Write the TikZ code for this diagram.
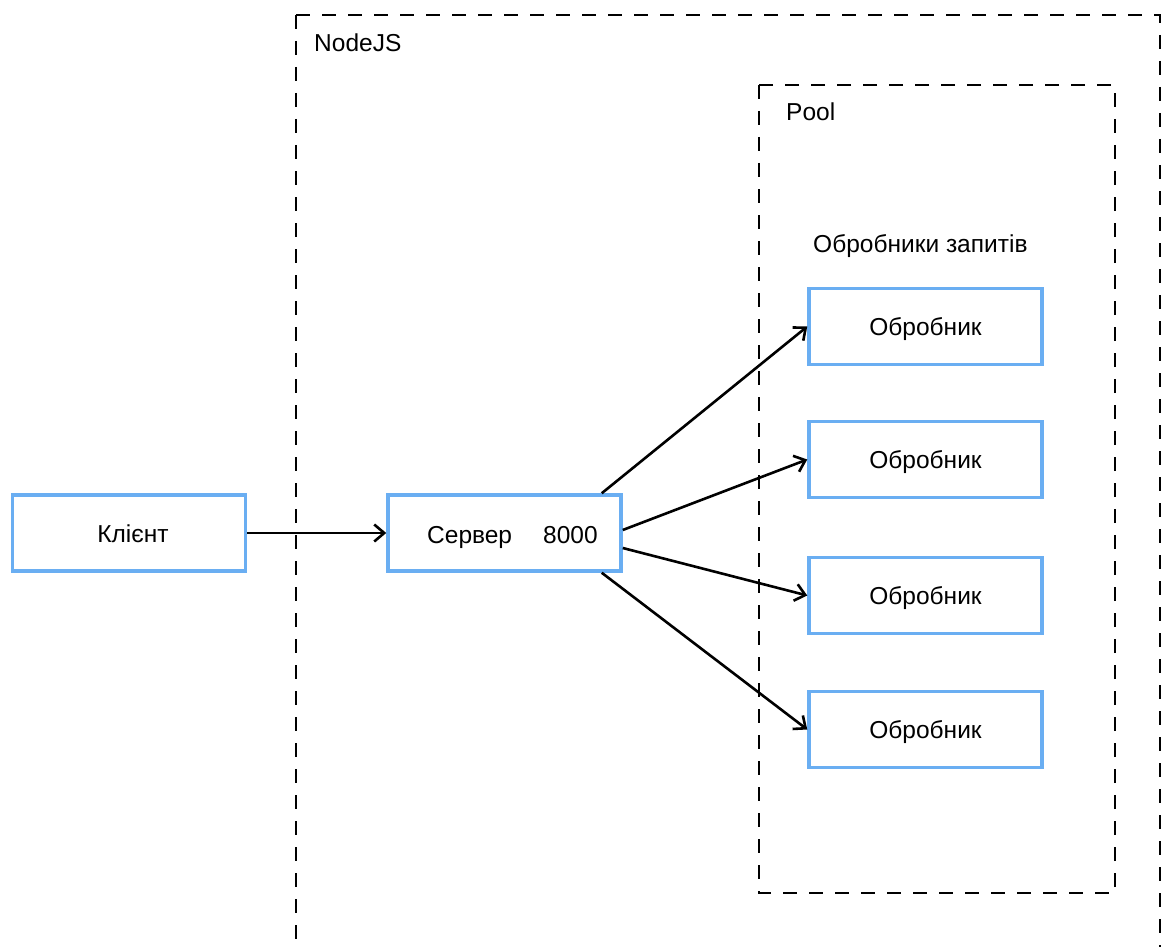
\documentclass[tikz,border=0pt]{standalone}
\usepackage{fontspec}
\setmainfont{Liberation Sans}
\usetikzlibrary{arrows.meta}
\definecolor{boxblue}{HTML}{6AAEF2}
\begin{document}
\begin{tikzpicture}[x=1pt,y=-1pt,
  box/.style={draw=boxblue,line width=3.5pt,fill=white,minimum width=233pt,minimum height=76pt,inner sep=0pt,text height=20pt,text depth=2pt,font=\fontsize{24.5}{29}\selectfont},
  lbl/.style={font=\fontsize{24.5}{29}\selectfont,inner sep=0pt,anchor=base west},
  group/.style={draw=black,line width=1.4pt,dash pattern=on 14pt off 12pt},
  conn/.style={line width=2.6pt,-{Straight Barb[length=10pt,width=17pt,line width=2.6pt]}}]
\useasboundingbox (0,0) rectangle (1162,947);
\clip (0,0) rectangle (1162,947);
\fill[white] (0,0) rectangle (1162,947);
% groups
\draw[group] (296,15) -- (1160,15) -- (1160,980) (296,15) -- (296,980);
\node[lbl] (nodejs) at (314,52) {NodeJS};
\draw[group] (759,85) rectangle (1115,893);
\node[lbl] (pool) at (786,121) {Pool};
\node[lbl] (handlers) at (813,252) {Обробники запитів};
% nodes
\node[box] (client) at (129,533) {\hspace*{8pt}Клієнт};
\node[box] (server) at (504.5,533) {};
\node[lbl] (srvtext) at (427,543) {Сервер};
\node[lbl] (port) at (543,543) {8000};
\node[box] (h1) at (925.5,326.5) {Обробник};
\node[box] (h2) at (925.5,459.5) {Обробник};
\node[box] (h3) at (925.5,595.5) {Обробник};
\node[box] (h4) at (925.5,729.5) {Обробник};
% connectors
\draw[conn] (client.east) -- (server.west);
\draw[conn] ([xshift=-21pt]server.north east) -- (h1.west);
\draw[conn] ([yshift=3pt]server.east) -- (h2.west);
\draw[conn] ([yshift=-15pt]server.east) -- (h3.west);
\draw[conn] ([xshift=-21pt]server.south east) -- (h4.west);
\end{tikzpicture}
\end{document}
